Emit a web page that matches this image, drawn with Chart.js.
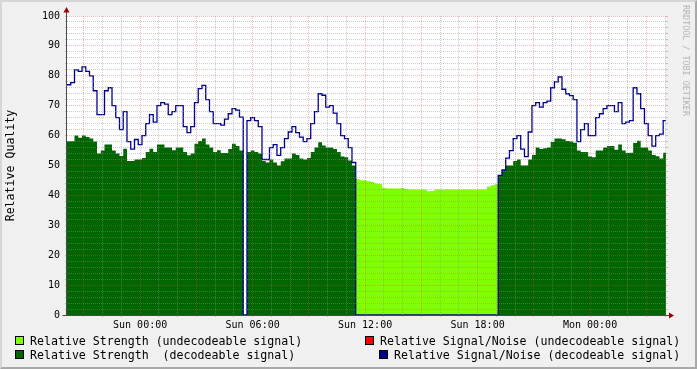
<!DOCTYPE html>
<html>
<head>
<meta charset="utf-8">
<script src="https://cdn.jsdelivr.net/npm/chart.js@4.4.1/dist/chart.umd.min.js"></script>
<style>
html,body{margin:0;padding:0;background:#F0F0F0;}
#wrap{position:relative;width:697px;height:369px;overflow:hidden;background:#F0F0F0;font-family:'DejaVu Sans Mono',monospace;}
#c{position:absolute;left:0;top:0;}
.frame{position:absolute;left:0;top:0;width:697px;height:369px;box-sizing:border-box;border-top:2px solid #D6D6D6;border-left:2px solid #D6D6D6;border-right:2px solid #A8A8A8;border-bottom:2px solid #A8A8A8;pointer-events:none;}
.lg{position:absolute;font-size:11.6px;white-space:pre;line-height:14px;color:#000;}
.box{position:absolute;width:7px;height:7px;border:1px solid #000;}
.wm{position:absolute;left:681px;top:5px;writing-mode:vertical-rl;font-size:8.4px;line-height:10px;color:#B4B4B4;white-space:pre;}
</style>
</head>
<body>
<div id="wrap">
  <canvas id="c" width="697" height="369"></canvas>
  <div class="wm">RRDTOOL / TOBI OETIKER</div>
  <div id="legend"></div>
  <div class="frame"></div>
</div>
<script>
// ---- data (one value per 12-minute step, hours relative to Sun 00:00) ----
const startHour = -3.9;
const stepHours = 0.2;

const snrDecodeable = [
  77, 77.7, 82, 81.5, 83, 81.5, 80, 75, 67, 67,
  75, 76, 70, 66, 62, 68, 58, 55.5, 58.7, 57,
  60, 64, 67, 64.5, 70, 71, 70.5, 67, 68, 70,
  70, 63, 61, 63, 71, 75.7, 76.8, 72, 68, 64,
  64, 63.5, 65.5, 67.3, 69, 68.5, 66.2, 0, 65, 66,
  65, 63, 52, 52, 56, 57, 53.4, 56, 59, 61.2,
  63, 61, 59.5, 58, 59, 64, 68, 74, 73.5, 69.5,
  70, 67.5, 64, 60, 59, 56, 51, 0, 0, 0,
  0, 0, 0, 0, 0, 0, 0, 0, 0, 0,
  0, 0, 0, 0, 0, 0, 0, 0, 0, 0,
  0, 0, 0, 0, 0, 0, 0, 0, 0, 0,
  0, 0, 0, 0, 0, 46.7, 48.5, 52.5, 55, 59,
  60, 55.5, 53, 61.2, 70, 71, 69.5, 71, 71.5, 76,
  78, 79.6, 75.5, 74, 73.4, 72, 58, 62, 64, 60,
  60, 66, 67.3, 69, 70, 70, 68, 71, 64, 64.5,
  65, 76, 74, 69, 64, 60, 56.5, 60, 60.5, 65,
  65
];

const strengthDecodeable = [
  58.1, 58.1, 60, 59.3, 60, 59.5, 59, 58, 54, 55,
  57, 57, 55, 54, 53.2, 55.6, 51.5, 51.5, 52, 52,
  52.5, 54.5, 55.6, 54.5, 57, 57, 56, 56, 55.1, 56,
  56, 54.5, 53.4, 54, 57.3, 58.2, 59, 57, 56, 54.5,
  55.1, 54.2, 54.2, 55.5, 57.3, 56.5, 55, 0, 54.5, 55,
  54.5, 54, 51.5, 51, 52, 51, 50, 51.4, 52.3, 52.3,
  54, 53.5, 52.3, 52, 52.5, 54.5, 56, 57.8, 56.7, 56,
  56, 55.5, 54.5, 53, 52.8, 51.7, 50, 0, 0, 0,
  0, 0, 0, 0, 0, 0, 0, 0, 0, 0,
  0, 0, 0, 0, 0, 0, 0, 0, 0, 0,
  0, 0, 0, 0, 0, 0, 0, 0, 0, 0,
  0, 0, 0, 0, 0, 46.7, 48.4, 50, 50, 51.5,
  52, 50, 50, 52, 53.5, 56, 55.5, 55.8, 56, 57.9,
  59, 59, 58.8, 58.2, 58, 57.6, 55, 54.5, 54.5, 53,
  52.8, 55, 55, 56, 56.5, 56.5, 55.3, 57, 55, 54.2,
  54.3, 57.5, 58.3, 56, 56, 55, 53.5, 53.1, 52.3, 54.3,
  54.3
];

const strengthUndecodeable = [
  0, 0, 0, 0, 0, 0, 0, 0, 0, 0,
  0, 0, 0, 0, 0, 0, 0, 0, 0, 0,
  0, 0, 0, 0, 0, 0, 0, 0, 0, 0,
  0, 0, 0, 0, 0, 0, 0, 0, 0, 0,
  0, 0, 0, 0, 0, 0, 0, 0, 0, 0,
  0, 0, 0, 0, 0, 0, 0, 0, 0, 0,
  0, 0, 0, 0, 0, 0, 0, 0, 0, 0,
  0, 0, 0, 0, 0, 0, 0, 45.5, 45.1, 45.1,
  44.7, 44.5, 44, 43.8, 42.6, 42.3, 42.3, 42.3, 42.3, 42.5,
  42.1, 42, 42, 42, 42, 42, 41.4, 41.5, 42, 42,
  42, 42, 42, 42, 42, 42, 42, 42, 42, 42,
  42, 42, 43, 43.4, 43.7, 0, 0, 0, 0, 0,
  0, 0, 0, 0, 0, 0, 0, 0, 0, 0,
  0, 0, 0, 0, 0, 0, 0, 0, 0, 0,
  0, 0, 0, 0, 0, 0, 0, 0, 0, 0,
  0, 0, 0, 0, 0, 0, 0, 0, 0, 0,
  0
];

const xTickHours = [0, 6, 12, 18, 24];
const xTickLabels = ['Sun 00:00', 'Sun 06:00', 'Sun 12:00', 'Sun 18:00', 'Mon 00:00'];
const yTickValues = [0, 10, 20, 30, 40, 50, 60, 70, 80, 90, 100];

const legendItems = [
  {label: 'Relative Strength (undecodeable signal)',     color: '#80FF00', x: 15,  y: 336},
  {label: 'Relative Signal/Noise (undecodeable signal)', color: '#FF0000', x: 365, y: 336},
  {label: 'Relative Strength  (decodeable signal)',      color: '#006600', x: 15,  y: 350},
  {label: 'Relative Signal/Noise (decodeable signal)',   color: '#00008B', x: 379, y: 350}
];

// ---- styles ----
const C_LIME = '#80FF00', C_DKGREEN = '#006600', C_NAVY = '#000090';
const GRID_MINOR = 'rgba(143,143,143,0.45)';
const GRID_MAJOR = 'rgba(222,72,72,0.38)';
const AXIS = '#4A4A4A', ARROW = '#A00000';
const FONT = "'DejaVu Sans Mono', monospace";

const hours = snrDecodeable.map((_, i) => Math.round((startHour + i * stepHours) * 100) / 100);
const pts = arr => arr.map((v, i) => ({x: hours[i], y: v}));

// legend (HTML text)
const lg = document.getElementById('legend');
legendItems.forEach(it => {
  const b = document.createElement('div');
  b.className = 'box'; b.style.left = it.x + 'px'; b.style.top = it.y + 'px'; b.style.background = it.color;
  lg.appendChild(b);
  const t = document.createElement('div');
  t.className = 'lg'; t.style.left = (it.x + 15) + 'px'; t.style.top = (it.y - 2) + 'px';
  t.textContent = it.label;
  lg.appendChild(t);
});

const decor = {
  id: 'decor',
  beforeDraw(chart) {
    const {ctx, chartArea: a} = chart;
    ctx.save();
    ctx.fillStyle = '#FFFFFF';
    ctx.fillRect(a.left, a.top, a.right - a.left, a.bottom - a.top);
    ctx.restore();
  },
  afterDraw(chart) {
    const {ctx, chartArea: a} = chart;
    const x0 = a.left - 0.5, y0 = a.bottom + 0.5;
    ctx.save();
    ctx.strokeStyle = AXIS; ctx.lineWidth = 1;
    ctx.beginPath();
    ctx.moveTo(x0, y0); ctx.lineTo(x0, a.top - 5);
    ctx.moveTo(x0 - 4, y0); ctx.lineTo(a.right + 4, y0);
    ctx.stroke();
    ctx.fillStyle = ARROW;
    ctx.beginPath();
    ctx.moveTo(x0, a.top - 9); ctx.lineTo(x0 - 3, a.top - 3.5); ctx.lineTo(x0 + 3, a.top - 3.5); ctx.closePath();
    ctx.fill();
    ctx.beginPath();
    ctx.moveTo(a.right + 8, y0); ctx.lineTo(a.right + 3, y0 - 3); ctx.lineTo(a.right + 3, y0 + 3); ctx.closePath();
    ctx.fill();
    ctx.restore();
  }
};

new Chart(document.getElementById('c'), {
  type: 'line',
  data: {
    datasets: [
      {label: 'Relative Signal/Noise (decodeable signal)', data: pts(snrDecodeable), borderColor: C_NAVY,
       borderWidth: 1.3, fill: false, stepped: true, pointRadius: 0, order: 0},
      {label: 'Relative Strength  (decodeable signal)', data: pts(strengthDecodeable), borderColor: C_DKGREEN,
       backgroundColor: C_DKGREEN, borderWidth: 0, fill: 'origin', stepped: true, pointRadius: 0, order: 1},
      {label: 'Relative Strength (undecodeable signal)', data: pts(strengthUndecodeable), borderColor: C_LIME,
       backgroundColor: C_LIME, borderWidth: 0, fill: 'origin', stepped: true, pointRadius: 0, order: 2}
    ]
  },
  options: {
    responsive: false,
    devicePixelRatio: 1,
    animation: false,
    layout: {padding: {left: 0, top: 16, right: 28, bottom: 0}},
    plugins: {legend: {display: false}, tooltip: {enabled: false}},
    elements: {line: {tension: 0}},
    scales: {
      x: {
        type: 'linear', min: -3.9, max: 28.05,
        afterFit: s => { s.height = 54; },
        border: {display: false, dash: [1, 1]},
        grid: {z: 1, lineWidth: 1, tickLength: 2,
               color: c => (c.tick && c.tick.value % 3 === 0) ? GRID_MAJOR : GRID_MINOR,
               tickColor: c => (c.tick && c.tick.value % 3 === 0) ? GRID_MAJOR : GRID_MINOR},
        ticks: {stepSize: 1, autoSkip: false, maxRotation: 0, includeBounds: false, maxTicksLimit: 200,
                padding: 2, color: '#000', font: {family: FONT, size: 10},
                callback: v => { const k = xTickHours.indexOf(v); return k >= 0 ? xTickLabels[k] : ''; }}
      },
      y: {
        min: 0, max: 100,
        afterFit: s => { s.width = 67; },
        border: {display: false, dash: [1, 1]},
        grid: {z: 1, lineWidth: 1, tickLength: 2,
               color: c => (c.tick && c.tick.value % 10 === 0) ? GRID_MAJOR : GRID_MINOR,
               tickColor: c => (c.tick && c.tick.value % 10 === 0) ? GRID_MAJOR : GRID_MINOR},
        ticks: {stepSize: 2, autoSkip: false, padding: 5, color: '#000', font: {family: FONT, size: 10},
                callback: v => yTickValues.includes(v) ? String(v) : ''},
        title: {display: true, text: 'Relative Quality', color: '#000', padding: {top: 4, bottom: 0},
                font: {family: FONT, size: 11.6}}
      },
      y2: {
        position: 'right', min: 0, max: 100,
        afterFit: s => { s.width = 3; },
        border: {display: false},
        grid: {drawOnChartArea: false, tickLength: 2,
               tickColor: c => (c.tick && c.tick.value % 10 === 0) ? GRID_MAJOR : GRID_MINOR},
        ticks: {stepSize: 2, autoSkip: false, padding: 0, callback: () => ''}
      }
    }
  },
  plugins: [decor]
});
</script>
</body>
</html>
